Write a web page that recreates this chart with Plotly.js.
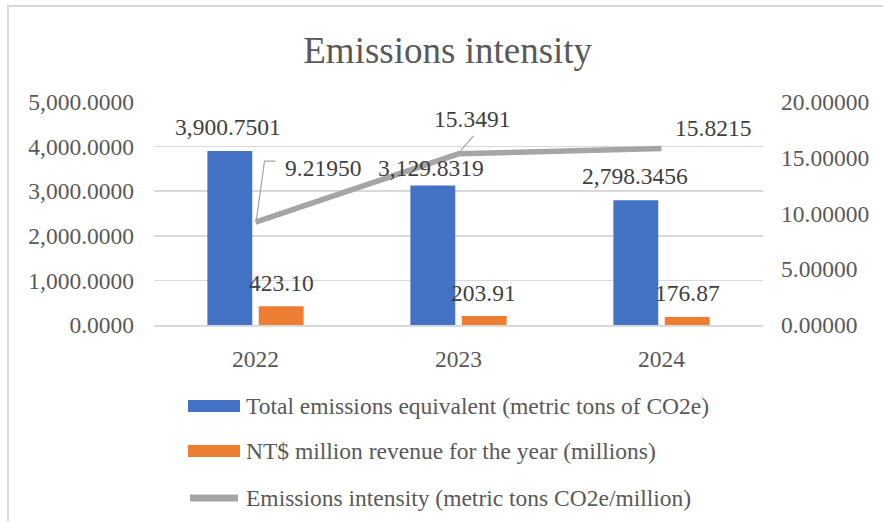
<!DOCTYPE html>
<html>
<head>
<meta charset="utf-8">
<script src="https://cdn.plot.ly/plotly-3.0.1.min.js"></script>
<style>
  html, body { margin: 0; padding: 0; overflow: hidden; background: #fff; }
  #chart { width: 883px; height: 521px; }
  #frame { position: absolute; left: 7px; top: 5px; width: 1000px; height: 1000px;
           border: 2px solid #d9d9d9; pointer-events: none; }
</style>
</head>
<body>
<div id="chart"></div>
<div id="frame"></div>
<script>
// ---- data ----
const years = ["2022", "2023", "2024"];
const totalEmissions = [3900.7501, 3129.8319, 2798.3456];
const revenue = [423.10, 203.91, 176.87];
const intensity = [9.21950, 15.3491, 15.8215];

const totalLabels = ["3,900.7501", "3,129.8319", "2,798.3456"];
const revenueLabels = ["423.10", "203.91", "176.87"];
const intensityLabels = ["9.21950", "15.3491", "15.8215"];

const seriesNames = [
  "Total emissions equivalent (metric tons of CO2e)",
  "NT$ million revenue for the year (millions)",
  "Emissions intensity (metric tons CO2e/million)"
];

const leftTicks = [0, 1000, 2000, 3000, 4000, 5000];
const rightTicks = [0, 5, 10, 15, 20];

// ---- style ----
const FONT = 'Liberation Serif, Times New Roman, serif';
const TXT = '#595959';
const LBL = '#404040';
const BLUE = '#4472C4', ORANGE = '#ED7D31', GRAY = '#A5A5A5';
const FS = 23.5;

const W = 883, H = 521;
const M = { l: 154, r: 120, t: 102, b: 196 };
const pw = W - M.l - M.r, ph = H - M.t - M.b;
const px = x => (x - M.l) / pw;
const py = y => (H - M.b - y) / ph;

const traces = [
  { type: 'bar', name: seriesNames[0], x: years, y: totalEmissions,
    marker: { color: BLUE }, yaxis: 'y', hoverinfo: 'skip' },
  { type: 'bar', name: seriesNames[1], x: years, y: revenue,
    marker: { color: ORANGE }, yaxis: 'y', hoverinfo: 'skip' },
  { type: 'scatter', mode: 'lines', name: seriesNames[2], x: years, y: intensity,
    line: { color: GRAY, width: 5.5 }, yaxis: 'y2', hoverinfo: 'skip' }
];

const annotations = [];
const barOff = 25.75; // half slot in px
const blueShift = [[-2, 24], [-1.5, 17], [-1, 24]];
const orangeShift = [[0, 23], [-1, 23], [0, 24]];
const lineShift = [[67, 54], [13.5, 35], [51, 21]];
years.forEach((yr, i) => {
  annotations.push({ x: i, y: totalEmissions[i], xref: 'x', yref: 'y', text: totalLabels[i],
    showarrow: false, xshift: -barOff + blueShift[i][0], yshift: blueShift[i][1],
    font: { family: FONT, size: FS, color: LBL } });
  annotations.push({ x: i, y: revenue[i], xref: 'x', yref: 'y', text: revenueLabels[i],
    showarrow: false, xshift: barOff + orangeShift[i][0], yshift: orangeShift[i][1],
    font: { family: FONT, size: FS, color: LBL } });
  annotations.push({ x: i, y: intensity[i], xref: 'x', yref: 'y2', text: intensityLabels[i],
    showarrow: false, xshift: lineShift[i][0], yshift: lineShift[i][1],
    font: { family: FONT, size: FS, color: LBL } });
});

// custom legend
const legRows = [406, 451, 498];
const shapes = [
  { type: 'rect', xref: 'paper', yref: 'paper', x0: px(188), x1: px(240), y0: py(legRows[0] + 6), y1: py(legRows[0] - 6),
    fillcolor: BLUE, line: { width: 0 } },
  { type: 'rect', xref: 'paper', yref: 'paper', x0: px(188), x1: px(240), y0: py(legRows[1] + 6), y1: py(legRows[1] - 6),
    fillcolor: ORANGE, line: { width: 0 } },
  { type: 'line', xref: 'paper', yref: 'paper', x0: px(190), x1: px(238), y0: py(legRows[2]), y1: py(legRows[2]),
    line: { color: GRAY, width: 7 } },
  // leader lines (pixel offsets relative to data points)
  { type: 'path', xref: 'x', yref: 'y2', xsizemode: 'pixel', ysizemode: 'pixel',
    xanchor: 0, yanchor: intensity[0], path: 'M1,3 L9,61 L20,61',
    line: { color: GRAY, width: 1.2 } },
  { type: 'path', xref: 'x', yref: 'y2', xsizemode: 'pixel', ysizemode: 'pixel',
    xanchor: 1, yanchor: intensity[1], path: 'M2,3 L15,18',
    line: { color: GRAY, width: 1.2 } }
];
seriesNames.forEach((n, i) => {
  annotations.push({ xref: 'paper', yref: 'paper', x: px(244), y: py(legRows[i]), xanchor: 'left', yanchor: 'middle',
    text: n, showarrow: false, font: { family: FONT, size: FS, color: TXT } });
});

const layout = {
  width: W, height: H,
  margin: M,
  paper_bgcolor: '#fff', plot_bgcolor: '#fff',
  showlegend: false,
  barmode: 'group', bargap: 0.494, bargroupgap: 0.126,
  title: { text: 'Emissions intensity', x: 0.507, xanchor: 'center', y: 1 - 50 / H, yanchor: 'middle',
    font: { family: FONT, size: 37, color: TXT } },
  font: { family: FONT, size: FS, color: TXT },
  xaxis: { type: 'category', showgrid: false, zeroline: false, showline: true, linecolor: '#d9d9d9', linewidth: 1.5,
    ticks: '', ticklabelstandoff: 12, tickfont: { family: FONT, size: FS, color: TXT }, fixedrange: true },
  yaxis: { range: [0, 5000], tickvals: leftTicks, tickformat: ',.4f', showgrid: true, gridcolor: '#d9d9d9', gridwidth: 1.5,
    zeroline: false, showline: false, ticks: '', ticklabelstandoff: 19,
    tickfont: { family: FONT, size: FS, color: TXT }, fixedrange: true },
  yaxis2: { range: [0, 20], tickvals: rightTicks, tickformat: '.5f', overlaying: 'y', side: 'right', showgrid: false,
    zeroline: false, showline: false, ticks: '', ticklabelstandoff: 17,
    tickfont: { family: FONT, size: FS, color: TXT }, fixedrange: true },
  annotations: annotations,
  shapes: shapes
};

Plotly.newPlot('chart', traces, layout, { displayModeBar: false, staticPlot: true });
</script>
</body>
</html>
